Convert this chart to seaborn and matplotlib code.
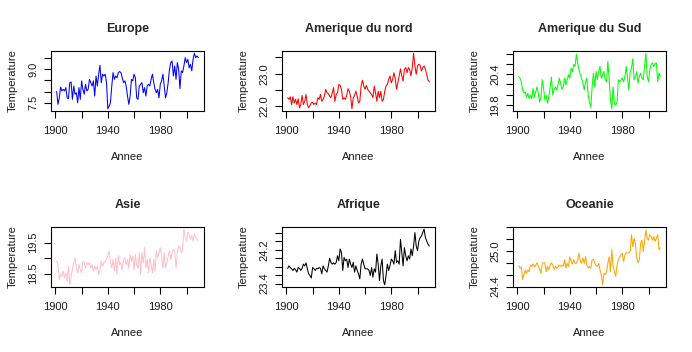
import numpy as np
import pandas as pd
import matplotlib
matplotlib.use("Agg")
import matplotlib.pyplot as plt
import seaborn as sns

# Temperatures annuelles moyennes par continent, 1901-2009
annees = list(range(1901, 2010))

europe = [8.00, 7.43, 7.72, 8.20, 8.03, 8.10, 8.03, 8.18, 7.72, 7.68,
          8.40, 8.43, 7.65, 8.25, 7.88, 7.95, 7.50, 8.18, 7.65, 8.48,
          8.10, 7.88, 8.33, 8.03, 8.10, 8.55, 8.40, 8.25, 8.48, 7.80,
          8.70, 8.25, 8.78, 9.18, 8.40, 8.78, 8.70, 8.78, 8.40, 7.23,
          7.35, 7.50, 8.25, 8.85, 8.55, 8.70, 8.62, 8.85, 8.90, 8.85,
          8.62, 8.40, 8.48, 8.25, 7.80, 7.43, 7.80, 8.55, 8.48, 8.78,
          8.62, 7.72, 7.65, 8.25, 8.33, 8.40, 7.95, 8.18, 7.80, 8.25,
          8.33, 8.25, 8.55, 8.78, 8.40, 8.10, 7.95, 8.10, 7.72, 8.33,
          8.48, 8.78, 8.25, 7.72, 7.95, 8.40, 9.00, 9.30, 9.37, 8.70,
          9.15, 8.55, 9.30, 9.00, 8.13, 8.93, 8.85, 9.15, 9.52, 9.30,
          9.45, 9.07, 9.22, 8.93, 9.45, 9.72, 9.52, 9.60, 9.52]

amerique_nord = [22.26, 22.21, 22.29, 22.05, 22.29, 22.10, 22.21, 22.05, 22.23, 21.95,
                 22.05, 22.33, 22.05, 22.15, 22.36, 22.05, 21.95, 22.02, 22.10, 22.12,
                 22.05, 22.10, 22.05, 22.26, 22.21, 22.36, 22.15, 22.21, 22.31, 22.52,
                 22.41, 22.39, 22.31, 22.26, 22.41, 22.57, 22.15, 22.36, 22.41, 22.67,
                 22.64, 22.52, 22.21, 22.26, 22.21, 22.33, 22.54, 22.46, 22.29, 21.92,
                 22.26, 22.33, 22.46, 22.31, 22.10, 22.15, 22.62, 22.80, 22.62, 22.52,
                 22.64, 22.52, 22.46, 22.41, 22.36, 22.26, 22.62, 22.41, 22.15, 22.46,
                 22.26, 22.46, 22.15, 22.21, 22.46, 22.62, 22.67, 22.82, 22.93, 22.72,
                 22.82, 23.03, 22.85, 22.52, 22.72, 22.93, 23.15, 22.93, 22.77, 23.13,
                 23.19, 23.03, 23.19, 23.13, 22.93, 23.19, 23.63, 23.24, 22.98, 23.24,
                 23.29, 23.26, 23.08, 23.19, 23.24, 23.13, 22.98, 22.80, 22.75]

amerique_sud = [20.35, 20.32, 20.25, 20.09, 20.03, 20.05, 19.95, 20.02, 19.92, 19.99,
                19.92, 20.12, 19.95, 20.05, 20.15, 20.02, 19.85, 19.95, 20.29, 20.12,
                19.89, 19.99, 19.83, 19.95, 20.15, 20.34, 19.99, 20.09, 20.15, 20.09,
                20.19, 20.32, 20.22, 20.10, 20.15, 20.32, 20.19, 20.29, 20.39, 20.32,
                20.52, 20.45, 20.59, 20.55, 20.79, 20.62, 20.49, 20.39, 20.32, 20.22,
                20.09, 20.25, 20.32, 19.99, 19.85, 19.75, 20.15, 20.42, 20.15, 20.45,
                20.29, 20.45, 20.55, 20.32, 20.39, 20.45, 20.29, 20.25, 20.65, 20.29,
                19.89, 19.72, 20.15, 19.82, 19.79, 19.85, 20.29, 20.25, 20.29, 20.32,
                20.25, 20.35, 20.55, 20.32, 20.09, 20.45, 20.52, 20.70, 20.29, 20.35,
                20.45, 20.22, 20.35, 20.42, 20.32, 20.29, 20.57, 20.81, 20.35, 20.25,
                20.49, 20.59, 20.62, 20.55, 20.61, 20.62, 20.25, 20.42, 20.35]

asie = [18.90, 18.79, 18.30, 18.47, 18.41, 18.58, 18.36, 18.52, 18.25, 18.74,
        18.14, 18.41, 18.63, 18.85, 19.01, 18.68, 18.52, 18.79, 18.63, 18.52,
        18.90, 18.85, 18.68, 18.85, 18.79, 18.85, 18.68, 18.79, 18.58, 18.74,
        18.63, 18.74, 18.47, 18.63, 18.90, 18.74, 18.85, 18.90, 18.96, 19.07,
        19.23, 18.85, 18.68, 18.96, 18.58, 19.01, 18.47, 19.07, 18.79, 18.85,
        18.63, 18.96, 19.01, 18.79, 18.96, 18.68, 19.12, 18.90, 19.07, 18.63,
        19.12, 18.79, 18.68, 19.17, 18.47, 19.17, 18.85, 19.34, 18.68, 18.96,
        18.52, 19.01, 18.79, 18.52, 18.96, 18.58, 19.23, 19.01, 19.17, 19.34,
        19.07, 18.68, 19.17, 18.68, 18.85, 19.07, 19.23, 18.96, 19.17, 19.28,
        19.23, 18.68, 19.17, 19.39, 19.34, 19.17, 19.28, 19.93, 19.66, 19.55,
        19.83, 19.77, 19.61, 19.72, 19.55, 19.77, 19.66, 19.61, 19.55]

afrique = [23.76, 23.82, 23.78, 23.75, 23.71, 23.76, 23.73, 23.67, 23.78, 23.76,
           23.71, 23.76, 23.86, 23.82, 23.89, 23.75, 23.63, 23.59, 23.53, 23.78,
           23.75, 23.71, 23.76, 23.75, 23.78, 23.76, 23.63, 23.82, 23.75, 23.71,
           23.67, 23.82, 24.00, 23.90, 23.86, 23.89, 23.86, 23.90, 24.06, 23.94,
           24.22, 24.14, 23.71, 24.02, 23.94, 23.98, 23.78, 23.98, 23.86, 23.78,
           23.90, 23.67, 23.82, 23.71, 23.63, 23.51, 23.86, 23.98, 23.86, 23.75,
           23.75, 23.75, 23.71, 23.59, 23.78, 23.55, 23.75, 23.67, 24.10, 23.86,
           23.47, 23.82, 23.98, 23.47, 23.37, 23.59, 23.86, 23.71, 23.82, 23.98,
           23.94, 23.86, 24.18, 23.90, 23.94, 23.86, 24.45, 24.14, 23.82, 24.25,
           24.06, 23.94, 24.06, 23.98, 24.22, 24.06, 24.29, 24.61, 24.29, 24.18,
           24.41, 24.49, 24.53, 24.61, 24.69, 24.49, 24.41, 24.33, 24.29]

oceanie = [24.75, 24.71, 24.73, 24.52, 24.60, 24.68, 24.62, 24.68, 24.65, 24.76,
           24.74, 24.78, 24.73, 24.76, 24.80, 24.75, 24.69, 24.62, 24.79, 24.80,
           24.80, 24.65, 24.74, 24.68, 24.76, 24.80, 24.76, 24.69, 24.74, 24.71,
           24.73, 24.76, 24.74, 24.76, 24.74, 24.85, 24.71, 24.79, 24.74, 24.90,
           24.82, 24.78, 24.85, 24.79, 24.79, 24.85, 24.96, 24.82, 24.79, 24.88,
           24.79, 24.90, 24.76, 24.71, 24.74, 24.71, 24.85, 24.86, 24.79, 24.76,
           24.74, 24.79, 24.68, 24.60, 24.43, 24.62, 24.60, 24.65, 24.79, 24.90,
           24.65, 25.02, 24.74, 24.65, 24.57, 24.76, 24.85, 24.90, 24.93, 24.96,
           24.82, 24.93, 24.97, 24.96, 24.97, 24.99, 25.27, 25.07, 25.21, 25.13,
           24.88, 24.80, 24.85, 25.13, 25.18, 24.99, 25.16, 25.35, 25.21, 25.18,
           25.27, 25.24, 25.18, 25.24, 25.16, 25.21, 25.27, 25.02, 25.05]

titres = ["Europe", "Amerique du nord", "Amerique du Sud", "Asie", "Afrique", "Oceanie"]
couleurs = ["blue", "red", "#00FF00", "pink", "black", "orange"]

xticks = [1900, 1920, 1940, 1960, 1980, 2000]
xticklabels = ["1900", "", "1940", "", "1980", ""]

yticks = [[7.5, 8.0, 8.5, 9.0, 9.5],
          [22.0, 22.5, 23.0, 23.5],
          [19.8, 20.0, 20.2, 20.4, 20.6, 20.8],
          [18.5, 19.0, 19.5],
          [23.4, 23.6, 23.8, 24.0, 24.2, 24.4, 24.6],
          [24.4, 24.6, 24.8, 25.0, 25.2, 25.4]]
yticklabels = [["7.5", "", "", "9.0", ""],
               ["22.0", "", "23.0", ""],
               ["19.8", "", "", "20.4", "", ""],
               ["18.5", "", "19.5"],
               ["23.4", "", "", "", "24.2", "", ""],
               ["24.4", "", "", "25.0", "", ""]]

series = [europe, amerique_nord, amerique_sud, asie, afrique, oceanie]

sns.set_style("ticks")
plt.rcParams["font.family"] = ["Liberation Sans", "DejaVu Sans"]

fig = plt.figure(figsize=(6.92, 3.52), dpi=100)
W, H = 692, 352
lefts = [51, 282, 513]
tops = [51, 227]
largeur, hauteur = 153, 60

for i, (titre, valeurs, couleur) in enumerate(zip(titres, series, couleurs)):
    ligne, col = divmod(i, 3)
    ax = fig.add_axes([lefts[col] / W, 1 - (tops[ligne] + hauteur) / H,
                       largeur / W, hauteur / H])
    df = pd.DataFrame({"Annee": annees, "Temperature": valeurs})
    sns.lineplot(data=df, x="Annee", y="Temperature", ax=ax,
                 color=couleur, linewidth=0.75)
    ax.margins(x=0.04, y=0.04)
    ax.set_xticks(xticks)
    ax.set_xticklabels(xticklabels)
    ax.set_yticks(yticks[i])
    ax.set_yticklabels(yticklabels[i], rotation=90, va="center")
    ax.tick_params(axis="both", direction="out", length=5, width=0.8,
                   labelsize=8, color="black", labelcolor="#1a1a1a")
    ax.tick_params(axis="x", pad=6)
    ax.tick_params(axis="y", pad=4)
    for s in ax.spines.values():
        s.set_visible(True)
        s.set_linewidth(0.8)
        s.set_color("black")
    ax.set_title(titre, fontsize=9, fontweight="bold", pad=14)
    ax.set_xlabel("Annee", fontsize=8, color="#1a1a1a")
    ax.set_ylabel("Temperature", fontsize=8, color="#1a1a1a")
    ax.xaxis.set_label_coords(0.5, -0.68)
    ax.yaxis.set_label_coords(-0.22, 0.5)

fig.savefig("out.png", dpi=100)
